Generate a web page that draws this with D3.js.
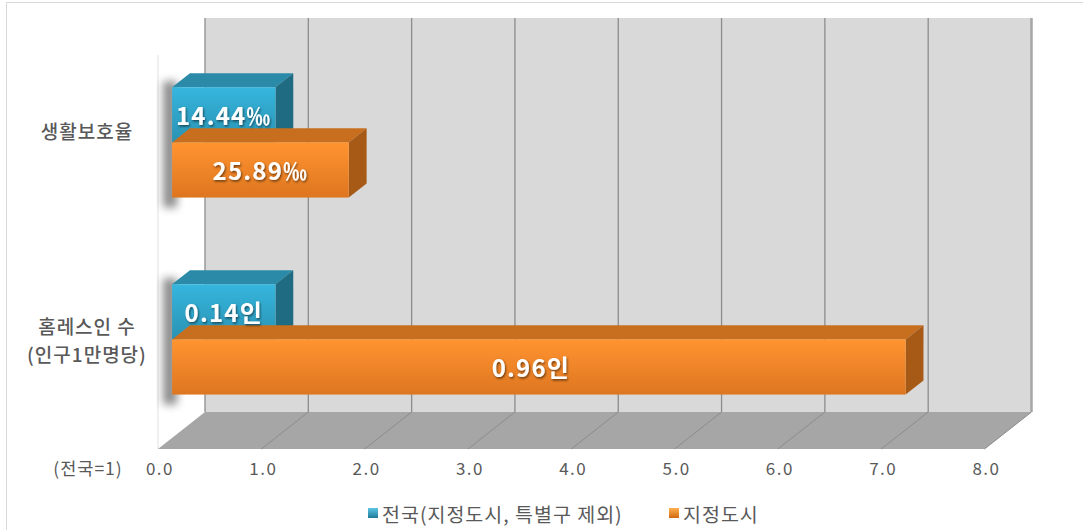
<!DOCTYPE html>
<html>
<head>
<meta charset="utf-8">
<script src="https://cdn.jsdelivr.net/npm/d3@7"></script>
<style>
  body { margin: 0; background: #fff; }
  text { font-family: "Noto Sans CJK KR", "Noto Sans", sans-serif; }
</style>
</head>
<body>
<div id="chart"></div>
<script>
// data (전국 = 1)
const categories = ["생활보호율", "홈레스인 수"];
const catLines = [["생활보호율"], ["홈레스인 수", "(인구1만명당)"]];
const seriesNames = ["전국(지정도시, 특별구 제외)", "지정도시"];
const nationalValues = [1.0, 1.0];
const cityValues = [1.71, 7.1];
const nationalLabels = ["14.44‰", "0.14인"];
const cityLabels = ["25.89‰", "0.96인"];
const xTicks = [0, 1, 2, 3, 4, 5, 6, 7, 8];

const W = 1083, H = 530;
const DX = 47, DY = 37;      // depth of the 3d box
const z0 = 0.3, z1 = 0.68;   // depth of bars inside the box

const svg = d3.select("#chart").append("svg")
    .attr("width", W).attr("height", H);

const defs = svg.append("defs");
function vGrad(id, top, bottom) {
    const g = defs.append("linearGradient").attr("id", id)
        .attr("x1", 0).attr("y1", 0).attr("x2", 0).attr("y2", 1);
    g.append("stop").attr("offset", "0%").attr("stop-color", top);
    g.append("stop").attr("offset", "100%").attr("stop-color", bottom);
}
vGrad("blueFront", "#36b6de", "#2a92b2");
vGrad("orangeFront", "#ff9430", "#de7620");
vGrad("blueMark", "#5cc6e6", "#1f7a96");
vGrad("orangeMark", "#ffb050", "#d06a10");

const blur = defs.append("filter").attr("id", "blur")
    .attr("x", "-50%").attr("y", "-50%").attr("width", "200%").attr("height", "200%");
blur.append("feGaussianBlur").attr("stdDeviation", 4);

const txtShadow = defs.append("filter").attr("id", "txtShadow");
txtShadow.append("feDropShadow").attr("dx", 1).attr("dy", 1.5)
    .attr("stdDeviation", 0.8).attr("flood-color", "#000").attr("flood-opacity", 0.55);

const colors = [
    { front: "url(#blueFront)", top: "#2a8aa7", side: "#1e6b82", mark: "url(#blueMark)" },
    { front: "url(#orangeFront)", top: "#c86f1f", side: "#a65a16", mark: "url(#orangeMark)" }
];

// outer border
svg.append("rect")
    .attr("x", 6.5).attr("y", 2.5).attr("width", W + 20).attr("height", H + 20)
    .attr("fill", "none").attr("stroke", "#d9d9d9");

// scales on the front plane
const x = d3.scaleLinear([0, 8], [158, 984.5]);
const y = d3.scaleBand(categories, [55, 449]).paddingInner(0.44).paddingOuter(0.22);
const ySeries = d3.scaleBand([0, 1], [0, y.bandwidth()]);

const P = (px, py, z) => [px + z * DX, py - z * DY];
const poly = pts => pts.map(p => p.join(",")).join(" ");

const yTop = y.range()[0], yBot = y.range()[1];
const x0 = x(0), x8 = x(8);

// side wall
svg.append("polygon")
    .attr("points", poly([[x0, yTop], P(x0, yTop, 1), P(x0, yBot, 1), [x0, yBot]]))
    .attr("fill", "#fff");
svg.append("line")
    .attr("x1", x0).attr("x2", x0).attr("y1", yTop).attr("y2", yBot)
    .attr("stroke", "#e0e0e0");

// back wall
svg.append("polygon")
    .attr("points", poly([P(x0, yTop, 1), P(x8, yTop, 1), P(x8, yBot, 1), P(x0, yBot, 1)]))
    .attr("fill", "#d9d9d9");
svg.append("g").selectAll("line")
    .data(xTicks)
    .join("line")
    .attr("x1", d => P(x(d), yTop, 1)[0])
    .attr("x2", d => P(x(d), yBot, 1)[0])
    .attr("y1", P(0, yTop, 1)[1])
    .attr("y2", P(0, yBot, 1)[1])
    .attr("stroke", d => d === 8 ? "#a6a6a6" : "#8c8c8c")
    .attr("stroke-width", d => d === 8 ? 2.5 : 1.3);

// floor
svg.append("polygon")
    .attr("points", poly([[x0, yBot], [x8, yBot], P(x8, yBot, 1), P(x0, yBot, 1)]))
    .attr("fill", "#a6a6a6");
svg.append("g").selectAll("line")
    .data(xTicks.slice(1))
    .join("line")
    .attr("x1", d => x(d)).attr("y1", yBot)
    .attr("x2", d => P(x(d), yBot, 1)[0]).attr("y2", P(0, yBot, 1)[1])
    .attr("stroke", "#8c8c8c").attr("stroke-width", 1);

// bars
const bars = [];
categories.forEach((c, i) => {
    [nationalValues[i], cityValues[i]].forEach((v, s) => {
        bars.push({
            cat: c, s: s, v: v,
            label: s === 0 ? nationalLabels[i] : cityLabels[i],
            yt: y(c) + ySeries(s), h: ySeries.bandwidth()
        });
    });
});

// soft shadow left of each cluster
svg.append("g").selectAll("polygon")
    .data(categories)
    .join("polygon")
    .attr("points", c => {
        const a = P(x0 - 9, y(c), z0), b = P(x0 - 9, y(c) + y.bandwidth(), z0);
        return poly([[a[0], a[1] - 6], [a[0] + 14, a[1] - 6], [b[0] + 14, b[1] + 10], [b[0], b[1] + 10]]);
    })
    .attr("fill", "#000").attr("opacity", 0.45)
    .attr("filter", "url(#blur)");

const barG = svg.append("g").selectAll("g")
    .data(bars)
    .join("g");

// top face
barG.append("polygon")
    .attr("points", d => poly([P(x0, d.yt, z0), P(x(d.v), d.yt, z0), P(x(d.v), d.yt, z1), P(x0, d.yt, z1)]))
    .attr("fill", d => colors[d.s].top);
// right side face
barG.append("polygon")
    .attr("points", d => poly([P(x(d.v), d.yt, z0), P(x(d.v), d.yt, z1), P(x(d.v), d.yt + d.h, z1), P(x(d.v), d.yt + d.h, z0)]))
    .attr("fill", d => colors[d.s].side);
// front face
barG.append("rect")
    .attr("x", d => P(x0, d.yt, z0)[0])
    .attr("y", d => P(x0, d.yt, z0)[1])
    .attr("width", d => x(d.v) - x0)
    .attr("height", d => d.h)
    .attr("fill", d => colors[d.s].front);

// value labels
svg.append("g").selectAll("text")
    .data(bars)
    .join("text")
    .attr("x", d => P((x0 + x(d.v)) / 2, 0, z0)[0] - (d.v > 5 ? 8 : 0))
    .attr("y", d => P(0, d.yt + d.h / 2, z0)[1])
    .attr("text-anchor", "middle")
    .attr("dominant-baseline", "central")
    .attr("fill", "#fff")
    .attr("font-size", 24)
    .attr("font-weight", "bold")
    .attr("letter-spacing", 1.2)
    .attr("filter", "url(#txtShadow)")
    .text(d => d.label);

// category labels, one text per line
const catRows = [];
categories.forEach((c, i) => {
    const cy = P(0, y(c) + y.bandwidth() / 2, z0)[1] - 12 - (catLines[i].length - 1) * 2;
    catLines[i].forEach((t, j) => catRows.push({ t: t, y: cy + j * 28 }));
});
svg.append("g").selectAll("text")
    .data(catRows)
    .join("text")
    .attr("x", 87)
    .attr("y", d => d.y)
    .attr("text-anchor", "middle")
    .attr("dominant-baseline", "central")
    .attr("fill", "#595959")
    .attr("font-size", 19)
    .attr("font-weight", 500)
    .attr("letter-spacing", 1)
    .text(d => d.t);

// x axis labels
svg.append("g").selectAll("text")
    .data(xTicks)
    .join("text")
    .attr("x", d => x(d) + 2)
    .attr("y", 467)
    .attr("text-anchor", "middle")
    .attr("dominant-baseline", "central")
    .attr("fill", "#595959")
    .attr("font-size", 17)
    .attr("letter-spacing", 1.5)
    .text(d => d3.format(".1f")(d));

svg.append("text")
    .attr("x", 88).attr("y", 467)
    .attr("text-anchor", "middle")
    .attr("dominant-baseline", "central")
    .attr("fill", "#595959")
    .attr("font-size", 17.5)
    .attr("letter-spacing", 1)
    .text("(전국=1)");

// legend
const legendX = [368, 669];
const leg = svg.append("g").selectAll("g")
    .data(seriesNames)
    .join("g")
    .attr("transform", (d, i) => `translate(${legendX[i]}, 513)`);
leg.append("rect")
    .attr("x", 0).attr("y", -5).attr("width", 10).attr("height", 10)
    .attr("fill", (d, i) => colors[i].mark);
leg.append("text")
    .attr("x", 14).attr("y", 0)
    .attr("dominant-baseline", "central")
    .attr("fill", "#595959")
    .attr("font-size", 19.5)
    .attr("letter-spacing", 1)
    .text(d => d);
</script>
</body>
</html>
